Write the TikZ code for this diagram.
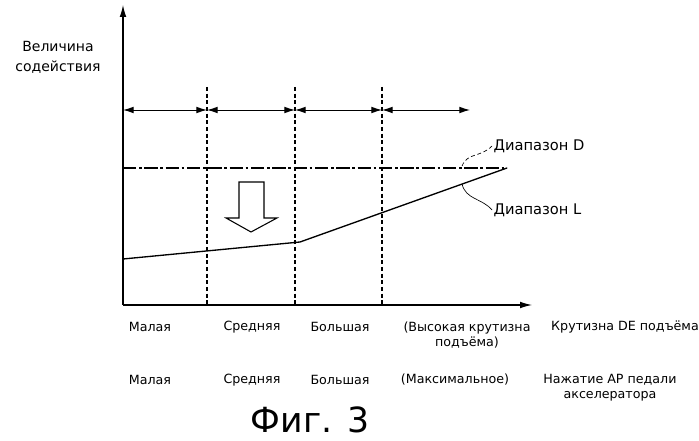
\documentclass[tikz,border=0pt]{standalone}
\usepackage{fontspec}
\setmainfont{DejaVu Sans}
\usetikzlibrary{arrows.meta}
\begin{document}
\begin{tikzpicture}[x=0.75pt,y=-0.75pt,
  lbl/.style={font=\fontsize{9.5}{11.5}\selectfont,align=center,inner sep=1pt},
  seg/.style={{Latex[length=8pt,width=5pt]}-{Latex[length=8pt,width=5pt]},line width=0.7pt},
  vdash/.style={densely dashed,line width=0.8pt}]
\useasboundingbox (0,0) rectangle (699,441);
\coordinate (O) at (123,305);
\coordinate (Ytop) at (123,5);
\coordinate (Xend) at (532,305);
\draw[line width=0.8pt,-{Latex[length=9pt,width=5pt]}] (O) -- (Ytop);
\draw[line width=0.8pt,-{Latex[length=9pt,width=5pt]}] (O) -- (Xend);
\foreach \x/\n in {207/a,295/b,382/c}{
  \coordinate (t\n) at (\x,87); \coordinate (b\n) at (\x,305);
  \draw[vdash] (t\n) -- (b\n);}
\coordinate (s0) at (123,110); \coordinate (s1) at (207,110);
\coordinate (s2) at (295,110); \coordinate (s3) at (382,110); \coordinate (s4) at (470,110);
\draw[seg] (s0)--(s1); \draw[seg] (s1)--(s2); \draw[seg] (s2)--(s3); \draw[seg] (s3)--(s4);
\coordinate (D0) at (123,168); \coordinate (D1) at (507,168);
\draw[line width=0.8pt,dash pattern=on 10pt off 2pt on 2pt off 2pt] (D0) -- (D1);
\coordinate (L0) at (123,259); \coordinate (L1) at (300,242);
\draw[line width=1pt] (L0) -- (L1) -- (D1);
\draw[line width=0.8pt,fill=white] (239,182) -- (264,182) -- (264,218) -- (277,218) -- (251,232) -- (226,218) -- (239,218) -- cycle;
\node[lbl,anchor=west,font=\fontsize{11}{13}\selectfont] (dD) at (492,146) {Диапазон D};
\node[lbl,anchor=west,font=\fontsize{11}{13}\selectfont] (dL) at (492,210) {Диапазон L};
\draw[densely dashed,line width=0.5pt] (462,166) .. controls (468,152) and (480,158) .. (dD.west);
\draw[line width=0.5pt] (462,184) .. controls (466,200) and (482,198) .. (dL.west);
\node[lbl,font=\fontsize{10.5}{15}\selectfont] (yl) at (58,57) {Величина\\содействия};
\node[lbl] (r1a) at (150,327) {Малая};
\node[lbl] (r1b) at (252,327) {Средняя};
\node[lbl] (r1c) at (340,327) {Большая};
\node[lbl] (r1d) at (467,335) {(Высокая крутизна\\подъёма)};
\node[lbl] (r1e) at (625,327) {Крутизна DE подъёма};
\node[lbl] (r2a) at (150,380) {Малая};
\node[lbl] (r2b) at (252,380) {Средняя};
\node[lbl] (r2c) at (340,380) {Большая};
\node[lbl] (r2d) at (455,380) {(Максимальное)};
\node[lbl] (r2e) at (610,388) {Нажатие AP педали\\акселератора};
\node[font=\fontsize{26}{30}\selectfont] (fig) at (310,420) {Фиг. 3};
\end{tikzpicture}
\end{document}
